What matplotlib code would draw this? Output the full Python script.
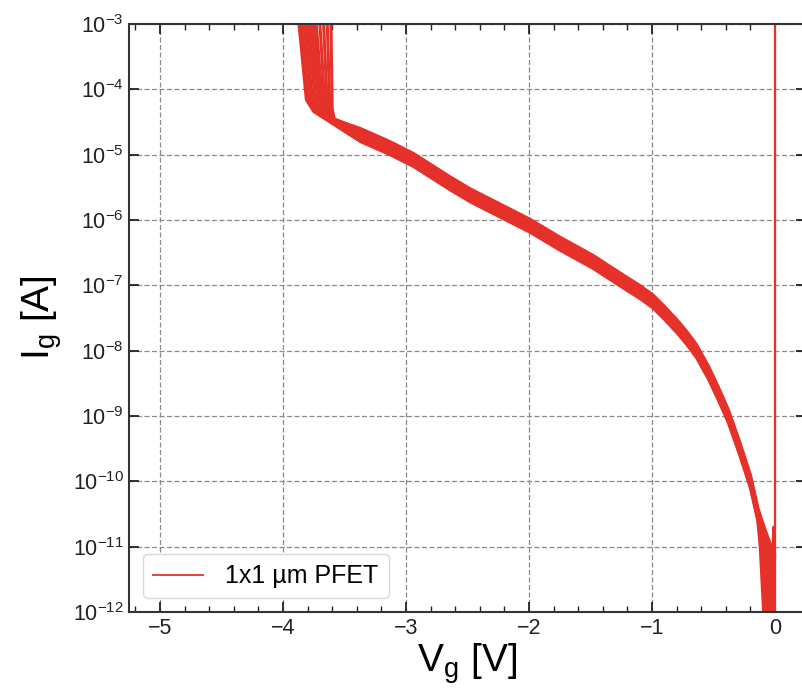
import matplotlib
matplotlib.use('Agg')
import matplotlib.pyplot as plt

# shared part of the gate leakage curve (V, log10 I)
core_v = [-3.37, -3.13, -2.94, -2.64, -2.48, -1.99, -1.75, -1.48, -1.21, -1.10, -0.99, -0.90, -0.80,
          -0.72, -0.64, -0.54, -0.46, -0.38, -0.29, -0.20, -0.14]
core_logi = [-4.70, -4.90, -5.08, -5.44, -5.62, -6.09, -6.36, -6.64, -6.97, -7.10, -7.25, -7.42, -7.62,
             -7.80, -8.00, -8.34, -8.66, -9.0, -9.48, -10.0, -10.5]

# individual sweeps: breakdown at the top, bend, knee, offset, tail near 0 V
top_v = [-3.87, -3.86, -3.85, -3.83, -3.82, -3.80, -3.79, -3.77, -3.75, -3.73, -3.70, -3.67, -3.64, -3.61]
bend_v = [-3.81, -3.80, -3.79, -3.77, -3.76, -3.74, -3.73, -3.71, -3.69, -3.68, -3.66, -3.64, -3.62, -3.60]
bend_logi = [-4.16, -4.10, -4.15, -4.12, -4.18, -4.14, -4.20, -4.16, -4.22, -4.18, -4.24, -4.26, -4.28, -4.30]
knee_v = [-3.75, -3.74, -3.72, -3.71, -3.70, -3.68, -3.67, -3.66, -3.64, -3.63, -3.62, -3.61, -3.59, -3.58]
knee_logi = [-4.34, -4.33, -4.36, -4.35, -4.38, -4.38, -4.40, -4.39, -4.42, -4.42, -4.45, -4.46, -4.48, -4.49]
offset = [-0.10, -0.06, -0.03, -0.01, 0.0, 0.02, 0.04, 0.07, 0.10, -0.08, 0.03, -0.04, 0.06, 0.01]
tail_v11 = [-0.12, -0.11, -0.10, -0.09, -0.08, -0.07, -0.06, -0.05, -0.04, -0.10, -0.07, -0.05, -0.03, -0.08]
end_v = [-0.09, -0.075, -0.065, -0.055, -0.05, -0.04, -0.035, -0.03, -0.02, -0.07, -0.045, -0.025, -0.01, -0.05]

# noise near 0 V and the vertical trace at V = 0
noise_v = [-0.03, -0.012, -0.022, -0.006, -0.016, -0.002, -0.01]
noise_logi = [-12.1, -10.7, -11.8, -10.9, -12.1, -11.1, -12.1]
zero_v = [0.0, 0.0]
zero_i = [1e-12, 1e-3]

red = '#e5312a'

plt.rcParams['font.family'] = ['Liberation Sans', 'DejaVu Sans']
plt.rcParams['mathtext.fontset'] = 'custom'
plt.rcParams['mathtext.rm'] = 'Liberation Sans'
plt.rcParams['mathtext.it'] = 'Liberation Sans'
plt.rcParams['mathtext.default'] = 'regular'

fig = plt.figure(figsize=(8.03, 6.93), dpi=100)
ax = fig.add_axes([129.25 / 803, 81 / 693, 676.5 / 803, 588 / 693])

for k in range(len(top_v)):
    xs = [top_v[k], bend_v[k], knee_v[k]]
    ys = [-3.0, bend_logi[k], knee_logi[k]]
    for v, li in zip(core_v, core_logi):
        if v > knee_v[k]:
            xs.append(v)
            ys.append(li + offset[k])
    xs += [tail_v11[k], end_v[k]]
    ys += [-11.0, -12.1]
    ax.plot(xs, [10 ** y for y in ys], color=red, lw=2.2, solid_joinstyle='round')

ax.plot(noise_v, [10 ** y for y in noise_logi], color=red, lw=2.0)
ax.plot(zero_v, zero_i, color=red, lw=1.6, label='1x1 µm PFET')

ax.set_yscale('log')
ax.set_xlim(-5.25, 0.25)
ax.set_ylim(1e-12, 1e-3)
ax.set_xticks([-5, -4, -3, -2, -1, 0])
ax.set_xticks([-5.2 + 0.2 * i for i in range(27)], minor=True)
ax.set_yticks([10.0 ** e for e in range(-12, -2)])
ax.yaxis.set_minor_locator(matplotlib.ticker.NullLocator())
ax.tick_params(which='both', direction='in', top=True, right=True, labelsize=15.5, colors='#222222', pad=4)
ax.tick_params(which='major', length=7, width=1.3)
ax.tick_params(which='minor', length=4, width=1.0)
for s in ax.spines.values():
    s.set_linewidth(1.5)
    s.set_color('#333333')
ax.grid(True, which='major', ls='--', color='#8a8a8a', lw=0.9, dashes=(4, 2))

ax.set_xlabel('V$_g$ [V]', fontsize=28, labelpad=2)
ax.set_ylabel('I$_g$ [A]', fontsize=28, labelpad=6)

leg = ax.legend(loc='lower left', fontsize=18, handlelength=2.0, handletextpad=0.9,
                borderaxespad=0.55, framealpha=1, edgecolor='#d8d8d8', fancybox=True)
leg.get_lines()[0].set_linewidth(1.3)

plt.savefig('out.png', dpi=100)
